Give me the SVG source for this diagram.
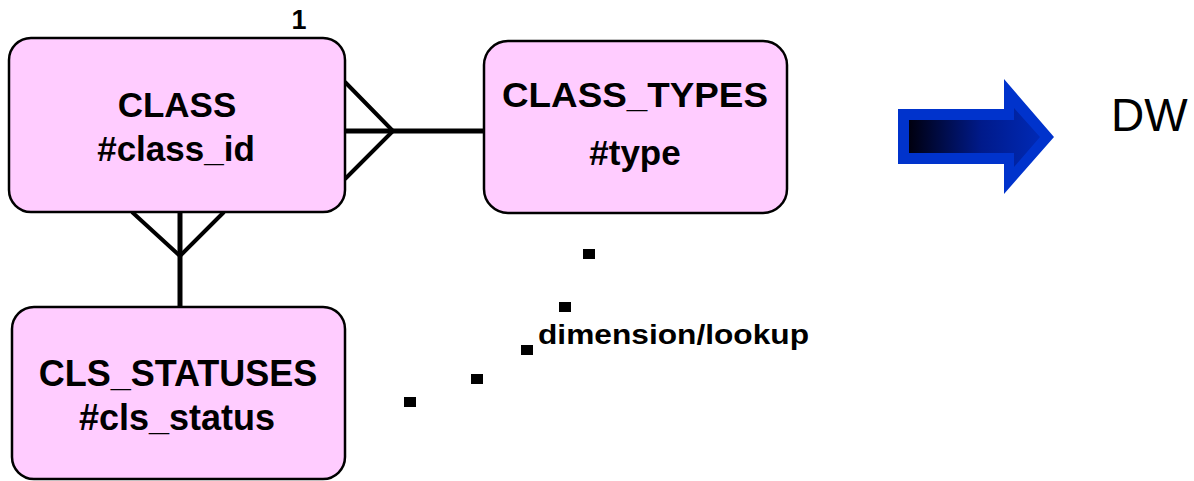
<svg xmlns="http://www.w3.org/2000/svg" width="1194" height="481" viewBox="0 0 1194 481">
  <style>
    .entity { fill: #ffccff; stroke: #000; stroke-width: 2.5; }
    .label { font-family: "Liberation Sans", Arial, sans-serif; font-weight: bold; fill: #000; text-anchor: middle; }
    .rel { stroke: #000; fill: none; stroke-linecap: butt; }
    .dot { fill: #000; }
  </style>
  <defs>
    <linearGradient id="shaftGrad" x1="0" y1="0" x2="1" y2="0">
      <stop offset="0" stop-color="#00000f"/>
      <stop offset="0.55" stop-color="#001a8a"/>
      <stop offset="1" stop-color="#0029b5"/>
    </linearGradient>
  </defs>

  <rect width="1194" height="481" fill="#fff"/>

  <!-- relationships -->
  <g id="connectors">
    <!-- CLASS (many) to CLASS_TYPES -->
    <line class="rel" x1="345" y1="131" x2="484" y2="131" stroke-width="5"/>
    <polyline class="rel" points="345,82 393,131 345,179" stroke-width="4"/>
    <!-- CLASS (many) to CLS_STATUSES -->
    <line class="rel" x1="180" y1="212" x2="180" y2="307" stroke-width="5"/>
    <polyline class="rel" points="132,212 180,256 224,212" stroke-width="4"/>
    <!-- dotted dimension/lookup link -->
    <rect class="dot" x="583" y="249" width="12" height="10"/>
    <rect class="dot" x="559" y="302" width="12" height="10"/>
    <rect class="dot" x="521" y="345" width="12" height="10"/>
    <rect class="dot" x="471" y="374" width="12" height="10"/>
    <rect class="dot" x="404" y="397" width="12" height="10"/>
  </g>

  <g id="cardinality">
    <text class="label" x="299" y="29" font-size="27" textLength="15" lengthAdjust="spacingAndGlyphs">1</text>
  </g>

  <g id="class">
    <rect class="entity" x="9" y="38" width="336" height="174" rx="22"/>
    <text class="label" x="177" y="117" font-size="35">CLASS</text>
    <text class="label" x="176" y="161" font-size="35">#class_id</text>
  </g>

  <g id="class_types">
    <rect class="entity" x="484" y="41" width="303" height="172" rx="24"/>
    <text class="label" x="635" y="107" font-size="35" textLength="266" lengthAdjust="spacingAndGlyphs">CLASS_TYPES</text>
    <text class="label" x="635" y="165" font-size="35">#type</text>
  </g>

  <g id="cls_statuses">
    <rect class="entity" x="12" y="307" width="333" height="172" rx="22"/>
    <text class="label" x="178" y="386" font-size="36">CLS_STATUSES</text>
    <text class="label" x="177" y="430" font-size="36">#cls_status</text>
  </g>

  <g id="lookup_label">
    <text x="538" y="344" font-family="Liberation Sans, Arial, sans-serif" font-weight="bold" font-size="28" textLength="271" lengthAdjust="spacingAndGlyphs">dimension/lookup</text>
  </g>

  <g id="dw_arrow">
    <polygon points="898,109 1004,109 1004,79 1054,137 1004,194 1004,164 898,164" fill="#0033cc"/>
    <polygon points="909,120 1014,120 1014,108 1040,137 1014,167 1014,153 909,153" fill="url(#shaftGrad)"/>
  </g>

  <g id="dw">
    <text x="1111" y="131" font-family="Liberation Sans, Arial, sans-serif" font-size="46">DW</text>
  </g>
</svg>
